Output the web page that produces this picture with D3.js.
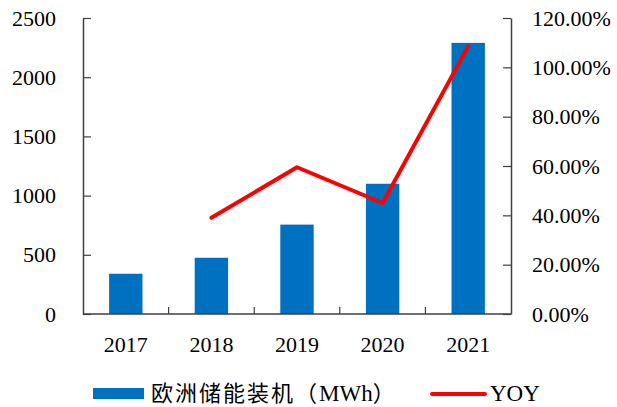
<!DOCTYPE html>
<html>
<head>
<meta charset="utf-8">
<script src="https://cdn.jsdelivr.net/npm/d3@7"></script>
<style>
  body { margin: 0; background: #fff; }
  text { font-family: "Liberation Serif", "Times New Roman", "Noto Sans CJK SC", serif; fill: #000; }
</style>
</head>
<body>
<div class="chart"></div>
<script>
// Chart data
var years = ["2017", "2018", "2019", "2020", "2021"];
var storage = [340, 475, 755, 1100, 2290];
var yoy = [null, 0.39, 0.595, 0.45, 1.085];
var leftTicks = [0, 500, 1000, 1500, 2000, 2500];
var rightTicks = [0, 0.2, 0.4, 0.6, 0.8, 1.0, 1.2];

var svgWidth = 617;
var svgHeight = 407;

var margin = { top: 18, right: 106, bottom: 93, left: 83 };
var width = svgWidth - margin.left - margin.right;
var height = svgHeight - margin.top - margin.bottom;

var svg = d3.select(".chart")
  .append("svg")
  .attr("width", svgWidth)
  .attr("height", svgHeight);

var chartGroup = svg.append("g")
  .attr("transform", `translate(${margin.left}, ${margin.top})`);

// Scales
var xScale = d3.scaleBand()
  .domain(years)
  .range([0, width])
  .padding(0);

var yLeft = d3.scaleLinear().domain([0, 2500]).range([height, 0]);
var yRight = d3.scaleLinear().domain([0, 1.2]).range([height, 0]);

var barWidth = xScale.bandwidth() * 0.39;

// Bars
chartGroup.selectAll("rect.bar")
  .data(years)
  .enter()
  .append("rect")
  .attr("class", "bar")
  .attr("x", (d, i) => xScale(d) + (xScale.bandwidth() - barWidth) / 2)
  .attr("y", (d, i) => yLeft(storage[i]))
  .attr("width", barWidth)
  .attr("height", (d, i) => height - yLeft(storage[i]))
  .attr("fill", "#0070C0");

// Axes
var leftAxis = d3.axisLeft(yLeft)
  .tickValues(leftTicks)
  .tickFormat(d3.format("d"))
  .tickSizeInner(-8)
  .tickSizeOuter(0)
  .tickPadding(27);

var rightAxis = d3.axisRight(yRight)
  .tickValues(rightTicks)
  .tickFormat(d => (d * 100).toFixed(2) + "%")
  .tickSizeInner(-8)
  .tickSizeOuter(0)
  .tickPadding(21);

var gLeft = chartGroup.append("g").call(leftAxis);
var gRight = chartGroup.append("g")
  .attr("transform", `translate(${width}, 0)`)
  .call(rightAxis);

var bottomAxis = d3.axisBottom(xScale).tickSize(0).tickPadding(22);
var gBottom = chartGroup.append("g")
  .attr("transform", `translate(0, ${height})`)
  .call(bottomAxis);
gBottom.select(".domain").remove();

// bottom axis line + category separators
chartGroup.append("line")
  .attr("x1", 0).attr("x2", width)
  .attr("y1", height).attr("y2", height)
  .attr("stroke", "#404040").attr("stroke-width", 1.5);

chartGroup.selectAll("line.sep")
  .data(years.slice(1))
  .enter()
  .append("line")
  .attr("class", "sep")
  .attr("x1", d => xScale(d)).attr("x2", d => xScale(d))
  .attr("y1", height).attr("y2", height - 7)
  .attr("stroke", "#404040").attr("stroke-width", 1.2);

[gLeft, gRight, gBottom].forEach(g => {
  g.selectAll("text").attr("font-size", 22).attr("fill", "#000");
  g.selectAll(".domain").attr("stroke", "#404040").attr("stroke-width", 1.5);
  g.selectAll(".tick line").attr("stroke", "#404040").attr("stroke-width", 1.2);
});

// YOY line
var line = d3.line()
  .defined(d => d.v !== null)
  .x(d => xScale(d.year) + xScale.bandwidth() / 2)
  .y(d => yRight(d.v));

chartGroup.append("path")
  .datum(years.map((y, i) => ({ year: y, v: yoy[i] })))
  .attr("d", line)
  .attr("fill", "none")
  .attr("stroke", "#FF0000")
  .attr("stroke-width", 4)
  .attr("stroke-linejoin", "round")
  .attr("stroke-linecap", "round");

// Legend
var legend = svg.append("g");
legend.append("rect")
  .attr("x", 93).attr("y", 388)
  .attr("width", 51).attr("height", 11)
  .attr("fill", "#0070C0");
var legendText = legend.append("text")
  .attr("x", 151).attr("y", 401)
  .attr("font-size", 22);
legendText.append("tspan")
  .attr("letter-spacing", 2)
  .text("欧洲储能装机（");
legendText.append("tspan")
  .attr("font-size", 23)
  .text("MWh");
legendText.append("tspan")
  .text("）");
legend.append("line")
  .attr("x1", 432).attr("x2", 485)
  .attr("y1", 394).attr("y2", 394)
  .attr("stroke", "#FF0000").attr("stroke-width", 4)
  .attr("stroke-linecap", "round");
legend.append("text")
  .attr("x", 490).attr("y", 401)
  .attr("font-size", 23)
  .text("YOY");
</script>
</body>
</html>
